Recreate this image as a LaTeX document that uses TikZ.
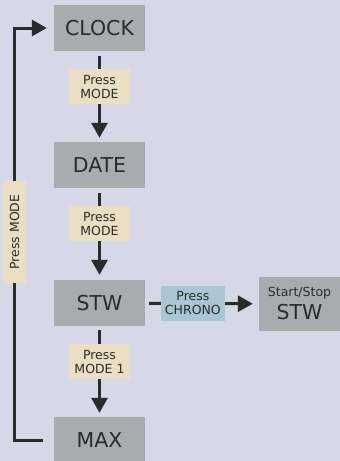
\documentclass[tikz,border=0pt]{standalone}
\usepackage{fontspec}
\setmainfont{DejaVu Sans}
\usetikzlibrary{arrows.meta}
\definecolor{bgcol}{HTML}{D7D8E7}
\definecolor{boxcol}{HTML}{A8ACAE}
\definecolor{tagcol}{HTML}{EADFC3}
\definecolor{chrcol}{HTML}{AAC6D5}
\definecolor{inkcol}{HTML}{2B2B2B}

\begin{document}
\begin{tikzpicture}[x=1pt, y=-1pt,
    mode/.style={fill=boxcol, minimum width=91pt, minimum height=46pt, inner sep=0pt,
      text=inkcol, font=\fontsize{20.5}{22}\selectfont},
    tag/.style={fill=tagcol, minimum width=61pt, minimum height=35pt, inner sep=0pt,
      align=center, text=inkcol, font=\fontsize{12.5}{14}\selectfont},
    flow/.style={line width=3pt, draw=inkcol, -{Triangle[width=16pt,length=15pt]}}]
      \useasboundingbox (0,0) rectangle (340,461);
      \clip (0,0) rectangle (340,461);
      \fill[bgcol] (0,0) rectangle (340,461);

      % Mode boxes
      \node[mode] (clock) at (99.5,28) {CLOCK};
      \node[mode] (date) at (99.5,165) {DATE};
      \node[mode] (stw) at (99.5,303) {STW};
      \node[mode] (max) at (99.5,440) {MAX};
      \node[mode, minimum width=81pt, minimum height=54pt, align=center] (runstw) at (299.5,304)
        {{\fontsize{12.5}{14}\selectfont Start/Stop}\\[1pt]STW};

      % Steps down
      \draw[flow, shorten <=5pt, shorten >=4pt] (clock) -- (date)
        node[tag, pos=0.39] (tag1) {Press\\MODE};
      \draw[flow, shorten <=5pt, shorten >=5pt] (date) -- (stw)
        node[tag, pos=0.39] (tag2) {Press\\MODE};
      \draw[flow, shorten <=4pt, shorten >=4pt] (stw) -- (max)
        node[tag, pos=0.39] (tag3) {Press\\MODE 1};

      % Chrono
      \draw[flow, shorten <=4pt, shorten >=6pt] (stw) -- (runstw)
        node[tag, fill=chrcol, minimum width=64pt, pos=0.42] (tag4) {Press\\CHRONO};

      % Back to the top
      \draw[flow, shorten <=11pt, shorten >=7pt] (max.west) -- (14,440) |- (clock.west);
      \node[tag, rotate=90, minimum width=102pt, minimum height=23pt] (tag5) at (14.5,232) {Press MODE};
    \end{tikzpicture}
\end{document}
